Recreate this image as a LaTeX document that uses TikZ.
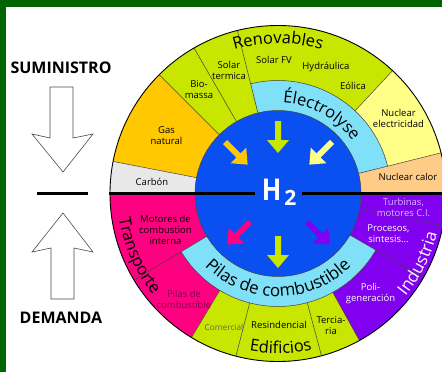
\documentclass[tikz,border=0pt]{standalone}
\usepackage{fontspec}
\setmainfont{Open Sans}
\usepackage{graphicx}
\usetikzlibrary{decorations.text}
\definecolor{framegreen}{RGB}{0,100,0}
\definecolor{limeg}{RGB}{200,230,0}
\definecolor{gasor}{RGB}{255,200,0}
\definecolor{carbg}{RGB}{232,232,232}
\definecolor{nucy}{RGB}{255,255,136}
\definecolor{nucc}{RGB}{255,204,136}
\definecolor{ringb}{RGB}{128,224,248}
\definecolor{coreb}{RGB}{10,80,240}
\definecolor{magp}{RGB}{255,0,128}
\definecolor{purp}{RGB}{130,0,240}
\definecolor{pinktxt}{RGB}{130,0,80}
\definecolor{lavtxt}{RGB}{215,185,255}
\newcommand{\anillo}[5]{\fill[#1] (#2:#4) arc[start angle=#2,end angle=#3,radius=#4] -- (#3:#5) arc[start angle=#3,end angle=#2,radius=#5] -- cycle;}
\begin{document}
\begin{tikzpicture}[x=1pt,y=1pt,
  sep/.style={draw=black!75, line width=0.5pt},
  lbl/.style={font=\fontsize{9.5}{11}\selectfont, align=center, inner sep=0pt},
  curv/.style={decorate, decoration={text along path, text align=center, text={#1}}},
  curvw/.style={decorate, decoration={text along path, text align=center, text color=white, text={#1}}},
  blockarr/.pic={\fill[#1] (0,-3) -- (19,-3) -- (19,-11) -- (32,0) -- (19,11) -- (19,3) -- (0,3) -- cycle;},
  hollow/.style={fill=white, draw=black!70, line width=0.6pt},
  bigtitle/.style={font=\fontsize{16}{16}\selectfont\bfseries, inner sep=0pt}
]
\useasboundingbox (0,0) rectangle (442,-372);
\clip (0,0) rectangle (442,-372);
\fill[white] (0,0) rectangle (442,-372);
\fill[framegreen] (0,0) rectangle (442,-7);
\fill[framegreen] (0,0) rectangle (6,-372);

\begin{scope}[shift={(278,-193.5)}]
  \anillo{limeg}{47}{135}{83}{168}
  \anillo{nucy}{14}{47}{83}{168}
  \anillo{nucc}{0}{14}{83}{168}
  \anillo{gasor}{135}{169}{83}{168}
  \anillo{carbg}{169}{180}{83}{168}
  \anillo{magp}{180}{239}{83}{168}
  \anillo{limeg}{239}{299}{83}{168}
  \anillo{purp}{299}{360}{83}{168}
  \anillo{ringb}{14}{104}{83}{113}
  \anillo{ringb}{211}{330}{83}{113}
  \foreach \a in {14,104,120,135,169,211,330,349} \draw[sep] (\a:83) -- (\a:168);
  \foreach \a in {47,239,255.5,285,299} \draw[sep] (\a:113) -- (\a:168);
  \draw[sep] (14:113) arc[start angle=14,end angle=104,radius=113];
  \draw[sep] (211:113) arc[start angle=211,end angle=330,radius=113];
  \fill[coreb] (0,0) circle[radius=83];
  \draw[sep] (0,0) circle[radius=83];
  \draw[black, line width=0.9pt] (0,0) circle[radius=168];
  \draw[black, line width=3pt] (180:169) -- (180:23);
  \draw[black, line width=3pt] (0:24) -- (0:170);
  \path[curv={|\fontsize{16.5}{16.5}\selectfont|Renovables}] (130:150) arc[start angle=130,end angle=50,radius=150];
  \path[curv={|\fontsize{16.5}{16.5}\selectfont|Électrolyse}] (101:91) arc[start angle=101,end angle=21,radius=91];
  \path[curv={|\fontsize{17}{17}\selectfont|Pilas de combustible}] (200:103) arc[start angle=200,end angle=340,radius=103];
  \path[curv={|\fontsize{16.5}{16.5}\selectfont|Edificios}] (231:160) arc[start angle=231,end angle=311,radius=160];
  \path[curv={|\fontsize{16.5}{16.5}\selectfont|Transporte}] (164:161) arc[start angle=164,end angle=244,radius=161];
  \path[curvw={|\fontsize{17}{17}\selectfont|Industria}] (293.5:164) arc[start angle=293.5,end angle=373.5,radius=164];
\end{scope}

% arrows in the core
\pic[rotate=-45] at (225,-142) {blockarr=gasor};
\pic[rotate=-90] at (278,-121) {blockarr=limeg};
\pic[rotate=-135] at (332,-142) {blockarr=nucy};
\pic[rotate=-135] at (250,-222) {blockarr=magp};
\pic[rotate=-90] at (278,-236) {blockarr=limeg};
\pic[rotate=-45] at (307,-222) {blockarr=purp};

\node[anchor=base west, inner sep=0pt, text=white] (h2) at (261.7,-200)
  {\scalebox{0.85}[1]{\fontsize{30}{30}\selectfont\bfseries H}\kern3pt\raisebox{-5pt}{\fontsize{21}{21}\selectfont\bfseries 2}};

% labels
\node[lbl] (solart) at (229,-70.5) {Solar\\termica};
\node[lbl] (biom) at (199,-89.5) {Bio-\\massa};
\node[lbl] (solarfv) at (274,-60) {Solar FV};
\node[lbl] (hydr) at (326,-67) {Hydráulica};
\node[lbl] (eol) at (353,-86) {Eólica};
\node[lbl] (nucel) at (398.5,-118.5) {Nuclear\\electricidad};
\node[lbl] (nuccal) at (408,-177) {Nuclear calor};
\node[lbl] (gas) at (166.5,-135.5) {Gas\\natural};
\node[lbl] (carbon) at (152,-182) {Carbón};
\node[lbl] (motores) at (165.5,-230) {Motores de\\combustion\\interna};
\node[lbl, text=pinktxt] (pilasl) at (184,-299) {Pilas de\\combustible};
\node[lbl, text=black!60, font=\fontsize{8.3}{10}\selectfont] (comer) at (224,-327) {Comercial};
\node[lbl] (resin) at (279,-325) {Resindencial};
\node[lbl] (terc) at (331,-325.5) {Tercia-\\ria};
\node[lbl, text=white] (poli) at (370.5,-294) {Poli-\\generación};
\node[lbl, text=white] (proc) at (388.5,-233.5) {Procesos,\\sintesis...};
\node[lbl, text=lavtxt] (turb) at (403.5,-207.5) {Turbinas,\\motores C.I.};

% left side
\node[bigtitle] (sum) at (61,-68) {SUMINISTRO};
\node[bigtitle] (dem) at (61,-318) {DEMANDA};
\draw[hollow] (50,-87) -- (73,-87) -- (73,-138) -- (93,-134) -- (63,-172) -- (32,-134) -- (50,-138) -- cycle;
\draw[hollow] (51,-299) -- (74,-299) -- (74,-248) -- (93,-252) -- (63,-213) -- (32,-252) -- (51,-248) -- cycle;
\draw[black, line width=3pt] (37,-193.5) -- (88,-193.5);
\end{tikzpicture}
\end{document}
